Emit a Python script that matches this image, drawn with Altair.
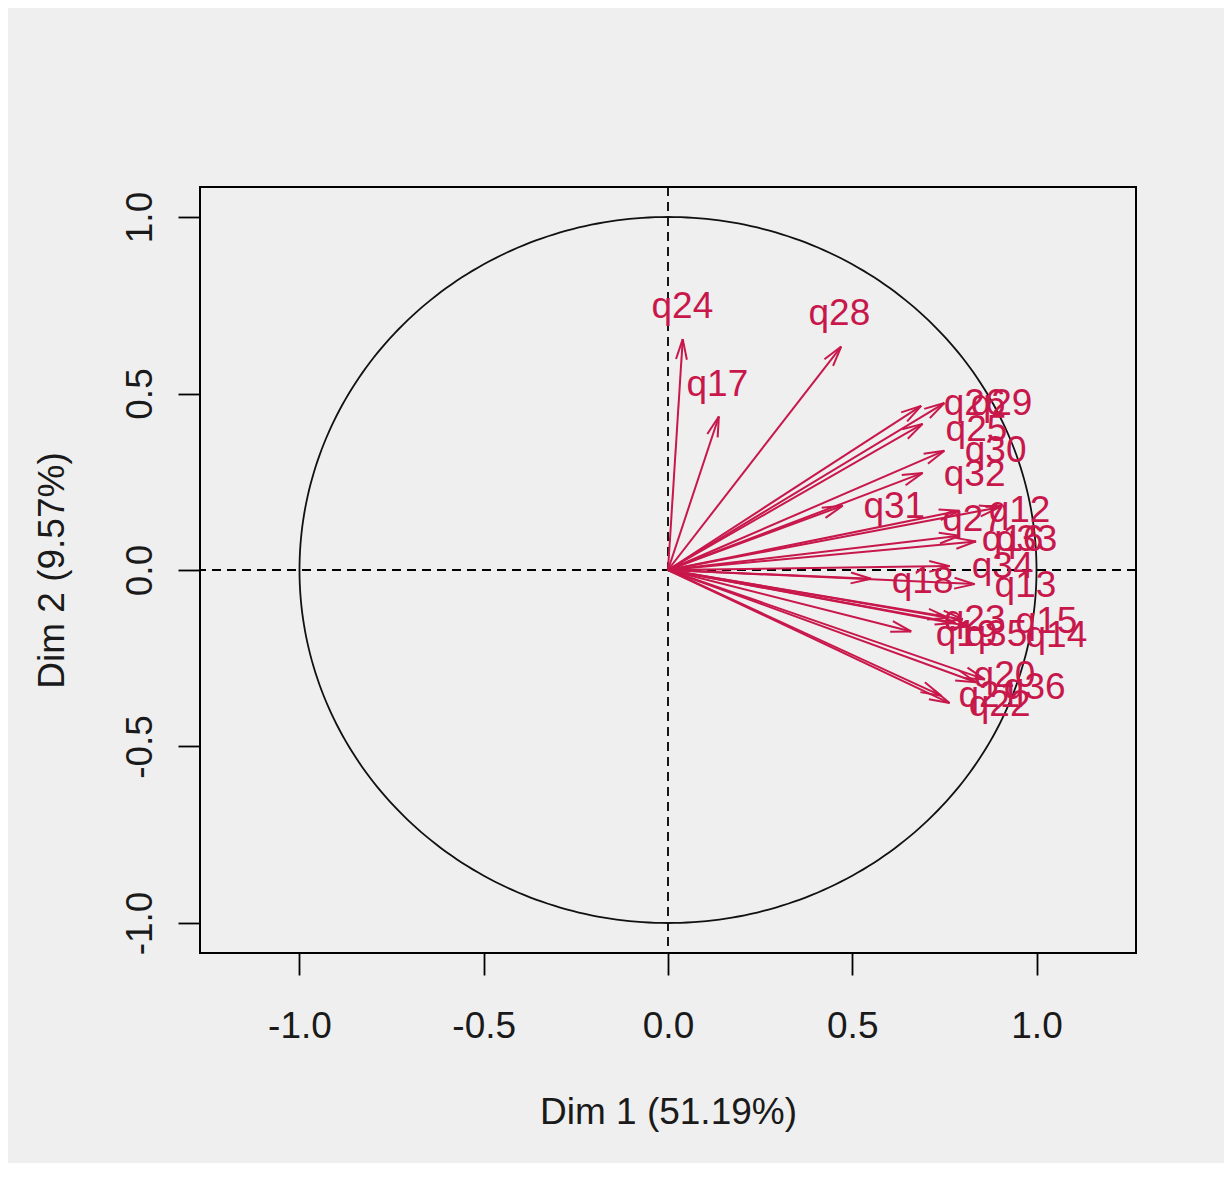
import math
import numpy as np
import pandas as pd
import altair as alt

# ---- data (variable coordinates on Dim 1 / Dim 2) ----
names = ["q24", "q17", "q28", "q26", "q29", "q25", "q30", "q32", "q31", "q27", "q12", "q16", "q33",
         "q34", "q13", "q18", "q19", "q23", "q35", "q15", "q14", "q20", "q36", "q22", "q21"]
dim1 = [0.040, 0.138, 0.470, 0.687, 0.750, 0.691, 0.750, 0.691, 0.474, 0.791, 0.900, 0.791, 0.836,
        0.764, 0.832, 0.551, 0.660, 0.760, 0.780, 0.800, 0.820, 0.836, 0.860, 0.764, 0.741]
dim2 = [0.654, 0.435, 0.633, 0.465, 0.473, 0.414, 0.338, 0.275, 0.182, 0.168, 0.178, 0.097, 0.081,
        0.011, -0.040, -0.025, -0.174, -0.135, -0.150, -0.140, -0.160, -0.318, -0.310, -0.377, -0.356]
# label anchor positions (after label overlap avoidance), in data units
label_x = [0.039, 0.134, 0.465, 0.832, 0.905, 0.837, 0.889, 0.832, 0.614, 0.828, 0.954, 0.935, 0.973,
           0.908, 0.970, 0.691, 0.810, 0.832, 0.891, 1.027, 1.054, 0.913, 0.995, 0.900, 0.872]
label_y = [0.744, 0.525, 0.725, 0.470, 0.470, 0.397, 0.337, 0.269, 0.178, 0.142, 0.167, 0.085, 0.085,
           0.008, -0.045, -0.034, -0.184, -0.142, -0.184, -0.147, -0.187, -0.300, -0.334, -0.382, -0.357]

tick_values = [-1.0, -0.5, 0.0, 0.5, 1.0]
x_title = "Dim 1 (51.19%)"
y_title = "Dim 2 (9.57%)"

# ---- layout ----
W, H = 936, 766
XDOM = [-1.27, 1.27]
YDOM = [-1.085, 1.085]
RED = "#C8174B"
FONT = "Liberation Sans"
FS = 37

sx = W / (XDOM[1] - XDOM[0])
sy = H / (YDOM[1] - YDOM[0])

# arrows
arrows = pd.DataFrame({"name": names, "x0": 0.0, "y0": 0.0, "x": dim1, "y": dim2,
                       "lx": label_x, "ly": label_y})

# arrow heads (open V, 15 degrees, fixed pixel length) derived from the tips
L = 21.0
heads = []
for n, x, y in zip(names, dim1, dim2):
    px, py = x * sx, y * sy
    ang = math.atan2(py, px)
    for s in (-1, 1):
        a = ang + math.pi + s * math.radians(15)
        heads.append({"name": n, "x": x, "y": y,
                      "hx": (px + L * math.cos(a)) / sx, "hy": (py + L * math.sin(a)) / sy})
heads = pd.DataFrame(heads)

# unit correlation circle
t = np.linspace(0, 2 * np.pi, 361)
circle = pd.DataFrame({"cx": np.cos(t), "cy": np.sin(t), "i": np.arange(len(t))})

zero = pd.DataFrame({"z": [0.0]})

label_expr = "datum.value < 0 ? '-' + format(-datum.value, '.1f') : format(datum.value, '.1f')"

xs = alt.Scale(domain=XDOM, nice=False, zero=False)
ys = alt.Scale(domain=YDOM, nice=False, zero=False)

x_axis = alt.Axis(values=tick_values, labelExpr=label_expr, grid=False, domain=False,
                  tickSize=22, tickWidth=1.8, tickColor="black",
                  labelFont=FONT, labelFontSize=FS, labelColor="#1a1a1a", labelPadding=33,
                  labelFlush=False,
                  title=x_title, titleFont=FONT, titleFontSize=FS, titleFontWeight="normal",
                  titleColor="#1a1a1a", titleY=159, titleBaseline="middle", titleAlign="center",
                  titleX=W / 2)
y_axis = alt.Axis(values=tick_values, labelExpr=label_expr, grid=False, domain=False,
                  tickSize=22, tickWidth=1.8, tickColor="black",
                  labelFont=FONT, labelFontSize=FS, labelColor="#1a1a1a", labelPadding=19,
                  labelAngle=270, labelAlign="center", labelBaseline="bottom", labelFlush=False,
                  title=y_title, titleFont=FONT, titleFontSize=FS, titleFontWeight="normal",
                  titleColor="#1a1a1a", titleX=-148, titleY=H / 2, titleAngle=270,
                  titleBaseline="middle", titleAlign="center")


def X(f):
    return alt.X(f, type="quantitative", scale=xs, axis=x_axis)


def Y(f):
    return alt.Y(f, type="quantitative", scale=ys, axis=y_axis)


hline = alt.Chart(zero).mark_rule(color="black", strokeWidth=1.8, strokeDash=[9, 6]).encode(y=Y("z"))
vline = alt.Chart(zero).mark_rule(color="black", strokeWidth=1.8, strokeDash=[9, 6]).encode(x=X("z"))

circ = alt.Chart(circle).mark_line(color="#111111", strokeWidth=1.8).encode(
    x=X("cx"), y=Y("cy"), order=alt.Order("i:Q"))

shafts = alt.Chart(arrows).mark_rule(color=RED, strokeWidth=2).encode(
    x=X("x0"), y=Y("y0"), x2=alt.X2("x"), y2=alt.Y2("y"))

head_lines = alt.Chart(heads).mark_rule(color=RED, strokeWidth=2).encode(
    x=X("x"), y=Y("y"), x2=alt.X2("hx"), y2=alt.Y2("hy"))

labels = alt.Chart(arrows).mark_text(color=RED, font=FONT, fontSize=FS, baseline="middle",
                                     align="center").encode(
    x=X("lx"), y=Y("ly"), text="name:N")

chart = alt.layer(hline, vline, circ, shafts, head_lines, labels).properties(
    width=W, height=H,
    padding={"left": 192, "top": 179, "right": 88, "bottom": 210},
    autosize=alt.AutoSizeParams(type="none"),
    background="#efefef",
).configure_view(stroke="black", strokeWidth=2)

chart.save("out.html", embed_options={"renderer": "svg", "actions": False})
